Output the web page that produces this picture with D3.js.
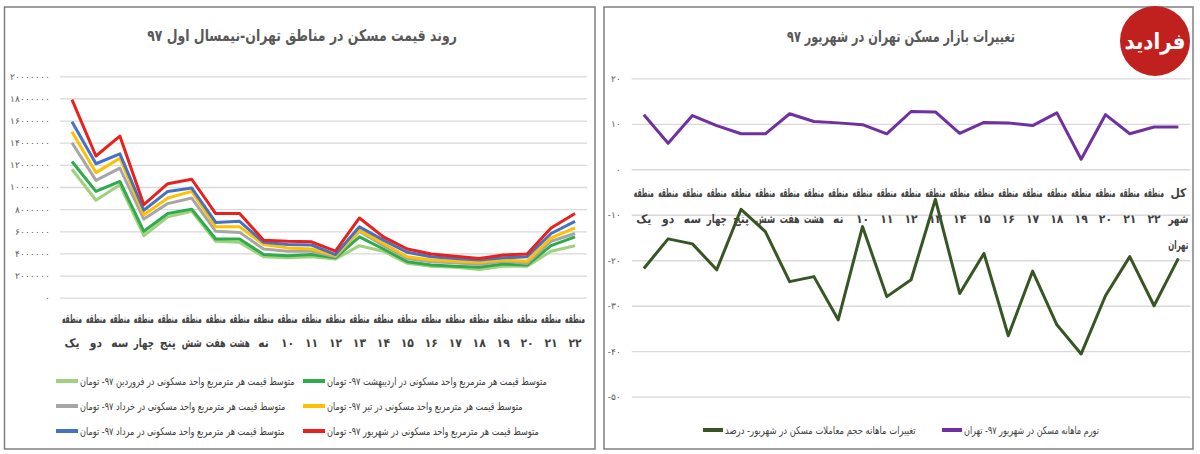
<!DOCTYPE html>
<html>
<head>
<meta charset="utf-8">
<script src="https://cdn.jsdelivr.net/npm/d3@7"></script>
<style>
  body { margin: 0; background: #fff; }
  svg { display: block; font-family: "DejaVu Sans Condensed", "DejaVu Sans", sans-serif; }
  .panel { fill: #fff; stroke: #7f7f7f; stroke-width: 1.5; }
  .grid .domain { display: none; }
  .grid line { stroke: #d9d9d9; stroke-width: 1.3; }
  .grid text { fill: #595959; font-size: 9px; }
  .series { fill: none; stroke-width: 3; stroke-linejoin: round; }
  .cat { fill: #404040; font-size: 12px; font-weight: bold; }
  .title { fill: #595959; font-size: 16px; font-weight: bold; }
  .legend { fill: #404040; font-size: 10.5px; }
</style>
</head>
<body>
<svg id="chart" width="1200" height="454"></svg>
<script>
const faDigits = '۰۱۲۳۴۵۶۷۸۹';
const fa = (v) => String(v).replace(/\d/g, (d) => faDigits[d]);

// مناطق تهران
const regionNames = ['یک', 'دو', 'سه', 'چهار', 'پنج', 'شش', 'هفت', 'هشت', 'نه',
  '۱۰', '۱۱', '۱۲', '۱۳', '۱۴', '۱۵', '۱۶', '۱۷', '۱۸', '۱۹', '۲۰', '۲۱', '۲۲'];

// left chart: average price per m2 (million toman), by month
const priceMonths = ['فروردین', 'اردیبهشت', 'خرداد', 'تیر', 'مرداد', 'شهریور'];
const farvardin = [11.6, 8.8, 10.2, 5.6, 7.3, 7.8, 5.1, 5.0, 3.7, 3.6, 3.7, 3.5, 4.7, 4.2, 3.1, 2.85, 2.75, 2.55, 2.85, 2.85, 4.2, 4.7];
const ordibehesht = [12.3, 9.6, 10.5, 6.0, 7.6, 8.0, 5.3, 5.3, 3.9, 3.8, 3.9, 3.6, 5.5, 4.4, 3.25, 2.95, 2.85, 2.75, 3.05, 2.95, 4.7, 5.5];
const khordad = [14.0, 10.6, 11.7, 7.1, 8.5, 9.0, 6.0, 5.9, 4.4, 4.2, 4.2, 3.7, 6.0, 4.7, 3.55, 3.25, 3.15, 3.0, 3.3, 3.1, 5.1, 5.8];
const tir = [15.0, 11.3, 12.6, 7.5, 9.0, 9.6, 6.4, 6.4, 4.8, 4.5, 4.4, 3.8, 6.1, 4.9, 3.7, 3.4, 3.3, 3.2, 3.4, 3.3, 5.4, 6.3];
const mordad = [15.9, 12.1, 13.0, 7.9, 9.6, 9.9, 6.8, 6.9, 5.0, 4.8, 4.76, 3.9, 6.4, 5.2, 4.1, 3.7, 3.55, 3.4, 3.6, 3.7, 5.8, 6.9];
const shahrivar = [17.9, 12.8, 14.6, 8.4, 10.3, 10.7, 7.6, 7.6, 5.2, 5.1, 5.05, 4.2, 7.2, 5.5, 4.4, 3.95, 3.75, 3.55, 3.85, 3.95, 6.3, 7.6];
const priceTicks = [0, 2000000, 4000000, 6000000, 8000000, 10000000, 12000000, 14000000, 16000000, 18000000, 20000000];

// right chart: Shahrivar changes (%)
const changeCats = regionNames.map((r) => ['منطقه', r]).concat([['کل', 'شهر', 'تهران']]);
const volumeChange = [-21.8, -15.3, -16.4, -22.1, -8.8, -13.7, -24.7, -23.6, -33.1, -12.6, -28.0, -24.3, -6.6, -27.3, -18.5, -36.6, -22.4, -34.2, -40.6, -27.8, -19.2, -30.0, -19.6];
const inflation = [12.0, 5.7, 11.8, 9.6, 7.8, 7.8, 12.2, 10.5, 10.2, 9.8, 7.8, 12.7, 12.6, 7.9, 10.3, 10.2, 9.6, 12.4, 2.2, 12.0, 7.8, 9.3, 9.3];
const changeTicks = [20, 10, 0, -10, -20, -30, -40, -50];
const changeLabels = ['تغییرات ماهانه حجم معاملات مسکن در شهریور- درصد', 'تورم ماهانه مسکن در شهریور ۹۷- تهران'];

const priceColors = ['#9fd27c', '#2eab4b', '#a6a6a6', '#ffc000', '#4472c4', '#e8211d'];
const changeColors = ['#375623', '#7030a0'];

const svg = d3.select('#chart');

// narrow each label horizontally (scale transform) so it fits maxW
function placeFit(sel, xFn, yFn, maxW) {
  sel.attr('x', 0).attr('y', 0).each(function (d, i) {
    const w = this.getComputedTextLength();
    const k = w > maxW ? maxW / w : 1;
    d3.select(this).attr('transform', `translate(${xFn(d, i)},${yFn(d, i)}) scale(${k},1)`);
  });
}

svg.append('rect').attr('class', 'panel').attr('x', 4.5).attr('y', 7).attr('width', 590.5).attr('height', 442);
svg.append('rect').attr('class', 'panel').attr('x', 604).attr('y', 7).attr('width', 589).attr('height', 442);

// ---------- left chart ----------
const left = svg.append('g');
const xL = d3.scaleBand().domain(d3.range(regionNames.length)).range([60, 587]);
const yL = d3.scaleLinear().domain([0, 20000000]).range([297.7, 76.3]);
const cxL = (i) => xL(i) + xL.bandwidth() / 2;

left.append('text').attr('class', 'title').attr('text-anchor', 'middle').attr('direction', 'rtl')
  .text('روند قیمت مسکن در مناطق تهران-نیمسال اول ۹۷')
  .call((s) => placeFit(s, () => 302, () => 41, 310));

left.append('g').attr('class', 'grid').attr('transform', 'translate(60,0)')
  .call(d3.axisLeft(yL).tickValues(priceTicks).tickSize(-527).tickPadding(10).tickFormat((d) => fa(d)));

const priceSeries = [farvardin, ordibehesht, khordad, tir, mordad, shahrivar];
const lineL = d3.line().x((d, i) => cxL(i)).y((d) => yL(d * 1e6));
left.selectAll('.series').data(priceSeries).join('path')
  .attr('class', 'series').attr('stroke', (d, i) => priceColors[i]).attr('d', lineL);

left.selectAll('.catL1').data(regionNames).join('text')
  .attr('class', 'cat catL1').attr('text-anchor', 'middle').text('منطقه')
  .call((s) => placeFit(s, (d, i) => cxL(i), () => 323, 20));
left.selectAll('.catL2').data(regionNames).join('text')
  .attr('class', 'cat catL2').attr('text-anchor', 'middle').text((d) => d)
  .call((s) => placeFit(s, (d, i) => cxL(i), () => 347, 20));

const legL = left.selectAll('.leg').data(priceMonths).join('g').attr('class', 'leg')
  .attr('transform', (d, i) => `translate(${i % 2 === 0 ? 56 : 303},${381 + Math.floor(i / 2) * 25})`);
legL.append('line').attr('x1', 0).attr('x2', 22).attr('stroke-width', 4).attr('stroke', (d, i) => priceColors[i]);
const legLText = legL.append('text').attr('class', 'legend')
  .attr('direction', 'rtl').attr('text-anchor', 'end')
  .text((d) => `متوسط قیمت هر مترمربع واحد مسکونی در ${d} ۹۷- تومان`);
const legK = 215 / legLText.node().getComputedTextLength();
legLText.attr('transform', `translate(24,4) scale(${legK},1)`);

// ---------- right chart ----------
const right = svg.append('g');
const xR = d3.scaleBand().domain(d3.range(changeCats.length)).range([631.7, 1190.5]);
const yR = d3.scaleLinear().domain([-50, 20]).range([396.7, 78.3]);
const cxR = (i) => xR(i) + xR.bandwidth() / 2;

right.append('text').attr('class', 'title').attr('text-anchor', 'middle').attr('direction', 'rtl')
  .text('تغییرات بازار مسکن تهران در شهریور ۹۷')
  .call((s) => placeFit(s, () => 901, () => 42, 228));

right.append('g').attr('class', 'grid').attr('transform', 'translate(631.7,0)')
  .call(d3.axisLeft(yR).tickValues(changeTicks).tickSize(-558.8).tickPadding(11)
    .tickFormat((d) => (d < 0 ? '-' + fa(-d) : fa(d))));

const catRows = changeCats.flatMap((lines, i) => lines.map((t, j) => ({ t, i, j })));
right.selectAll('.catR').data(catRows).join('text')
  .attr('class', 'cat catR').attr('text-anchor', 'middle').text((d) => d.t)
  .call((s) => placeFit(s, (d) => cxR(d.i), (d) => 197 + d.j * 26, 20));

const lineR = d3.line().x((d, i) => cxR(i)).y((d) => yR(d));
right.selectAll('.series').data([volumeChange, inflation]).join('path')
  .attr('class', 'series').attr('stroke-width', 3.5).attr('stroke', (d, i) => changeColors[i]).attr('d', lineR);

const legRWidths = [191, 135];
const legR = right.selectAll('.leg').data(changeLabels).join('g').attr('class', 'leg')
  .attr('transform', (d, i) => `translate(${i === 0 ? 703 : 942},430)`);
legR.append('line').attr('x1', 0).attr('x2', 20).attr('stroke-width', 4).attr('stroke', (d, i) => changeColors[i]);
legR.append('text').attr('class', 'legend')
  .attr('direction', 'rtl').attr('text-anchor', 'end').text((d) => d)
  .each(function (d, i) {
    const k = legRWidths[i] / this.getComputedTextLength();
    d3.select(this).attr('transform', `translate(22,4) scale(${k},1)`);
  });

// logo
const logo = svg.append('g').attr('transform', 'translate(1155,41)');
logo.append('circle').attr('r', 35).attr('fill', '#c0211f');
logo.append('text').attr('y', 8).attr('text-anchor', 'middle').attr('direction', 'rtl')
  .attr('fill', '#fff').attr('font-size', 22).attr('font-weight', 'bold').text('فرادید');
</script>
</body>
</html>
